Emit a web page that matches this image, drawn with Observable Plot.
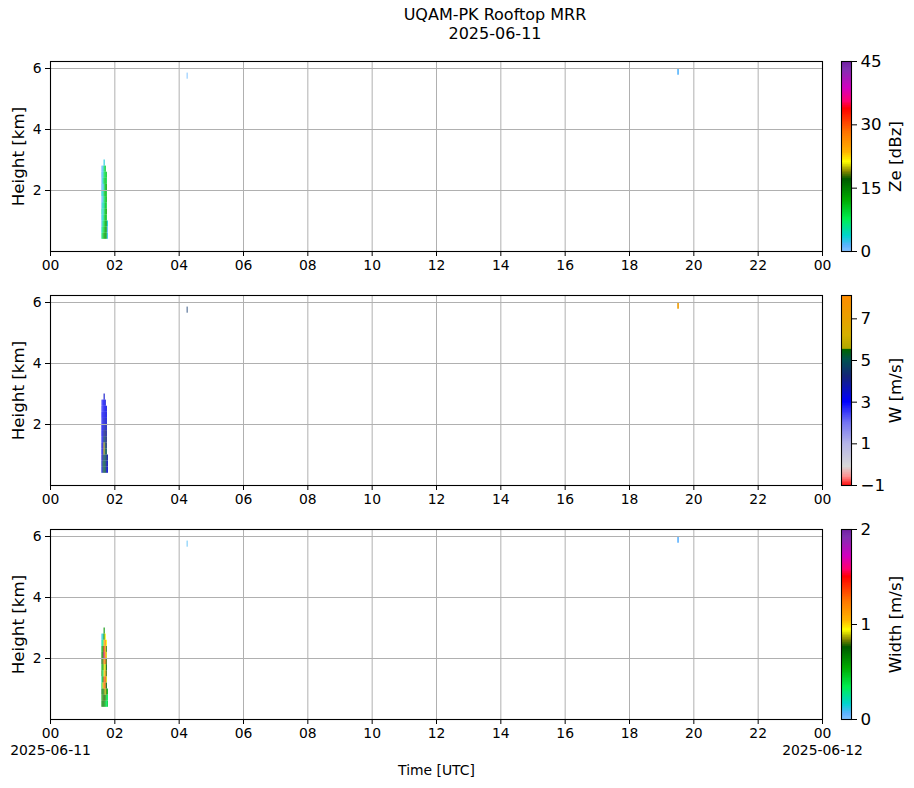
<!DOCTYPE html>
<html>
<head>
<meta charset="utf-8">
<script src="https://cdn.jsdelivr.net/npm/d3@7"></script>
<script src="https://cdn.jsdelivr.net/npm/@observablehq/plot@0.6"></script>
<style>
  body { margin: 0; background: white; font-family: "DejaVu Sans", sans-serif; }
  #fig { position: relative; width: 914px; height: 788px; overflow: hidden; background: white; }
  #fig > * { position: absolute; }
  .title { width: 300px; text-align: center; font-size: 16px; color: black; line-height: 16px; height: 16px; }
</style>
</head>
<body>
<div id="fig"></div>
<script>
// ---------------- data ----------------
const dayStart = "2025-06-11";
const dayEnd = "2025-06-12";
const titleLines = ["UQAM-PK Rooftop MRR", "2025-06-11"];
const hourTicks = [0, 2, 4, 6, 8, 10, 12, 14, 16, 18, 20, 22, 24];
const heightTicks = [2, 4, 6];
const heightDomain = [0, 6.23];

// Main echo: 2-minute columns, 0.2-km gates (gate base heights)
const clusterStart = ["01:36", "01:38", "01:40", "01:42", "01:44", "01:46"];
const columnMinutes = 2;
const gateBase = [0.4, 0.6, 0.8, 1.0, 1.2, 1.4, 1.6, 1.8, 2.0, 2.2, 2.4, 2.6, 2.8];
const gateDepth = 0.2;

// Reflectivity Ze [dBz], one array per column, bottom gate first
const zeCol0 = [6, 4, 2, 3, 5, 2, 1, 4, 2, 1, 2, 1, null];
const zeCol1 = [10, 8, 6, 3, 2, 5, 2, 3, 1, 4, 2, 2, null];
const zeCol2 = [12, 10, 9, 8, 7, 5, 7, 9, 6, 9, 8, 7, 3];
const zeCol3 = [14, 13, 12, 12, 11, 12, 10, 12, 11, 11, 9, 10, null];
const zeCol4 = [11, 12, 13, 10, 12, 9, 11, 10, 12, 9, 10, null, null];
const zeCol5 = [2, 1, 3, null, null, null, null, null, null, null, null, null, null];

// Fall velocity W [m/s]
const wCol0 = [3.2, 3.4, 3.3, 3.0, 3.2, 2.8, 3.0, 3.1, 2.7, 2.9, 2.6, 2.4, null];
const wCol1 = [4.6, 4.8, 4.2, 3.8, 3.6, 3.4, 3.5, 3.2, 3.3, 3.0, 2.8, 3.1, null];
const wCol2 = [5.1, 5.2, 5.0, 6.1, 6.0, 4.8, 4.0, 3.6, 3.4, 3.3, 3.2, 3.0, 3.5];
const wCol3 = [5.2, 5.0, 4.9, 5.1, 4.8, 4.5, 4.2, 3.8, 3.5, 3.3, 3.1, 3.4, null];
const wCol4 = [3.8, 4.0, 4.6, 5.0, 4.4, 4.2, 3.9, 3.6, 3.4, 3.2, 3.3, null, null];
const wCol5 = [3.4, 3.6, 3.8, null, null, null, null, null, null, null, null, null, null];

// Spectral width [m/s]
const swCol0 = [0.6, 0.5, 0.7, 0.4, 0.3, 0.6, 0.5, 0.7, 0.6, 0.5, 0.2, 0.1, null];
const swCol1 = [0.7, 0.8, 0.6, 0.9, 0.7, 0.3, 0.6, 0.8, 0.7, 0.6, 0.3, 0.2, null];
const swCol2 = [0.6, 0.7, 0.8, 1.3, 1.2, 1.0, 0.9, 1.1, 1.6, 1.5, 1.0, 0.7, 0.6];
const swCol3 = [0.5, 0.8, 0.9, 1.2, 1.4, 1.1, 0.95, 1.3, 1.2, 1.0, 1.3, 0.95, null];
const swCol4 = [0.3, 0.4, 0.8, 0.75, 0.9, 0.8, 0.75, 0.8, 0.9, 0.8, 0.95, null, null];
const swCol5 = [0.4, 0.35, 0.5, null, null, null, null, null, null, null, null, null, null];

// Isolated echoes near 6 km
const echoStart = ["04:15", "19:30"];
const echoMinutes = [1.5, 3];
const echoBottom = [5.65, 5.78];
const echoTop = [5.85, 6.0];
const zeEcho = [1.0, 1.5];
const wEcho = [4.5, 7.3];
const swEcho = [0.08, 0.06];

// Colour maps
const rainbowStops = [0, 0.03, 0.08, 0.17, 0.27, 0.38, 0.42, 0.47, 0.52, 0.63, 0.75, 0.79, 0.86, 0.96, 1];
const rainbowColors = ["#80c0ff", "#5cb2ff", "#00d4d0", "#00ee50", "#00aa00", "#005a00", "#8a8a00", "#ffff00", "#ffb400", "#ff7000", "#ff0000", "#ff0070", "#d000c0", "#8030b0", "#7020a0"];
const wStops = [-1, -0.6, -0.1, 1, 2, 3, 4.2, 5, 5.5, 5.56, 6.2, 7, 8.12];
const wColors = ["#ff1010", "#ff8c8c", "#d8d8d8", "#b4b4e8", "#7474f2", "#0000ff", "#14237a", "#005050", "#006400", "#b0a800", "#d4b000", "#e8a000", "#ff8c00"];

// ---------------- helpers ----------------
const parseDay = d3.utcParse("%Y-%m-%d");
const t0 = parseDay(dayStart);
const t1 = parseDay(dayEnd);
const atTime = (hhmm) => d3.utcParse("%Y-%m-%d %H:%M")(dayStart + " " + hhmm);
const addMinutes = (d, m) => new Date(+d + m * 60000);
const xTicks = hourTicks.map(h => d3.utcHour.offset(t0, h));

function cells(columns, echoValues) {
  const out = [];
  columns.forEach((col, j) => {
    const s = atTime(clusterStart[j]);
    col.forEach((v, i) => {
      if (v == null) return;
      out.push({ x1: s, x2: addMinutes(s, columnMinutes), y1: gateBase[i], y2: gateBase[i] + gateDepth, v });
    });
  });
  echoValues.forEach((v, k) => {
    const s = atTime(echoStart[k]);
    out.push({ x1: s, x2: addMinutes(s, echoMinutes[k]), y1: echoBottom[k], y2: echoTop[k], v });
  });
  return out;
}

const panels = [
  { top: 61, data: cells([zeCol0, zeCol1, zeCol2, zeCol3, zeCol4, zeCol5], zeEcho),
    cdomain: rainbowStops.map(f => 0 + f * 45), crange: rainbowColors, vmin: 0, vmax: 45,
    cticks: [0, 15, 30, 45], clabel: "Ze [dBz]" },
  { top: 295, data: cells([wCol0, wCol1, wCol2, wCol3, wCol4, wCol5], wEcho),
    cdomain: wStops, crange: wColors, vmin: -1, vmax: 8.12,
    cticks: [-1, 1, 3, 5, 7], clabel: "W [m/s]" },
  { top: 529, data: cells([swCol0, swCol1, swCol2, swCol3, swCol4, swCol5], swEcho),
    cdomain: rainbowStops.map(f => 0 + f * 2), crange: rainbowColors, vmin: 0, vmax: 2,
    cticks: [0, 1, 2], clabel: "Width [m/s]", last: true }
];

const fig = document.getElementById("fig");
const intFormat = d => (d < 0 ? "\u2212" : "") + Math.abs(d);

// title (two lines)
titleLines.forEach((line, i) => {
  const t = document.createElement("div");
  t.className = "title";
  t.style.left = (495 - 150) + "px";
  t.style.top = (7 + i * 19) + "px";
  t.textContent = line;
  fig.appendChild(t);
});

const plotH = 190;
const mTop = 10;

panels.forEach(p => {
  const mBottom = p.last ? 70 : 30;
  const colorScale = { type: "linear", domain: p.cdomain, range: p.crange, clamp: true, interpolate: "rgb" };
  const marks = [
    Plot.rect(p.data, { x1: "x1", x2: "x2", y1: "y1", y2: "y2", fill: "v" }),
    Plot.gridX(xTicks, { stroke: "#b0b0b0", strokeOpacity: 1, strokeWidth: 1 }),
    Plot.gridY(heightTicks, { stroke: "#b0b0b0", strokeOpacity: 1, strokeWidth: 1 }),
    Plot.frame({ stroke: "black", strokeWidth: 1.1 }),
    Plot.axisX({ ticks: xTicks, tickFormat: d3.utcFormat("%H"), tickSize: 5, tickPadding: 4, label: null }),
    Plot.axisY({ ticks: heightTicks, tickFormat: intFormat, tickSize: 5, tickPadding: 4, label: null }),
    Plot.text(["Height [km]"], { frameAnchor: "left", textAnchor: "middle", rotate: -90, dx: -32, fontSize: 16.7 })
  ];
  if (p.last) {
    marks.push(Plot.text([[t0, dayStart], [t1, dayEnd]], { x: d => d[0], text: d => d[1], frameAnchor: "bottom", dy: 35 }));
    marks.push(Plot.text(["Time [UTC]"], { frameAnchor: "bottom", textAnchor: "middle", dy: 55 }));
  }
  const main = Plot.plot({
    width: 830, height: plotH + mTop + mBottom,
    marginLeft: 50, marginRight: 8, marginTop: mTop, marginBottom: mBottom,
    x: { type: "utc", domain: [t0, t1] },
    y: { domain: heightDomain },
    color: colorScale,
    style: { fontFamily: "DejaVu Sans", fontSize: "13.9px", color: "black", background: "transparent", overflow: "visible" },
    marks
  });
  main.style.left = "0px";
  main.style.top = (p.top - mTop) + "px";
  fig.appendChild(main);

  // colorbar
  const n = 300;
  const steps = d3.range(n).map(i => {
    const a = p.vmin + (i / n) * (p.vmax - p.vmin);
    const b = p.vmin + ((i + 1) / n) * (p.vmax - p.vmin);
    return { y1: a, y2: b, v: (a + b) / 2 };
  });
  const cb = Plot.plot({
    width: 73, height: plotH + mTop + 10,
    marginLeft: 1, marginRight: 62, marginTop: mTop, marginBottom: 10,
    x: { domain: [0, 1], axis: null },
    y: { domain: [p.vmin, p.vmax] },
    color: colorScale,
    style: { fontFamily: "DejaVu Sans", fontSize: "16.7px", color: "black", background: "transparent", overflow: "visible" },
    marks: [
      Plot.rect(steps, { x1: 0, x2: 1, y1: "y1", y2: "y2", fill: "v", shapeRendering: "crispEdges" }),
      Plot.frame({ stroke: "black", strokeWidth: 1.1 }),
      Plot.axisY({ anchor: "right", ticks: p.cticks, tickFormat: intFormat, tickSize: 5, tickPadding: 4, label: null }),
      Plot.text([p.clabel], { frameAnchor: "right", textAnchor: "middle", rotate: -90, dx: 44 })
    ]
  });
  cb.style.left = (841 - 1) + "px";
  cb.style.top = (p.top - mTop) + "px";
  fig.appendChild(cb);
});
</script>
</body>
</html>
